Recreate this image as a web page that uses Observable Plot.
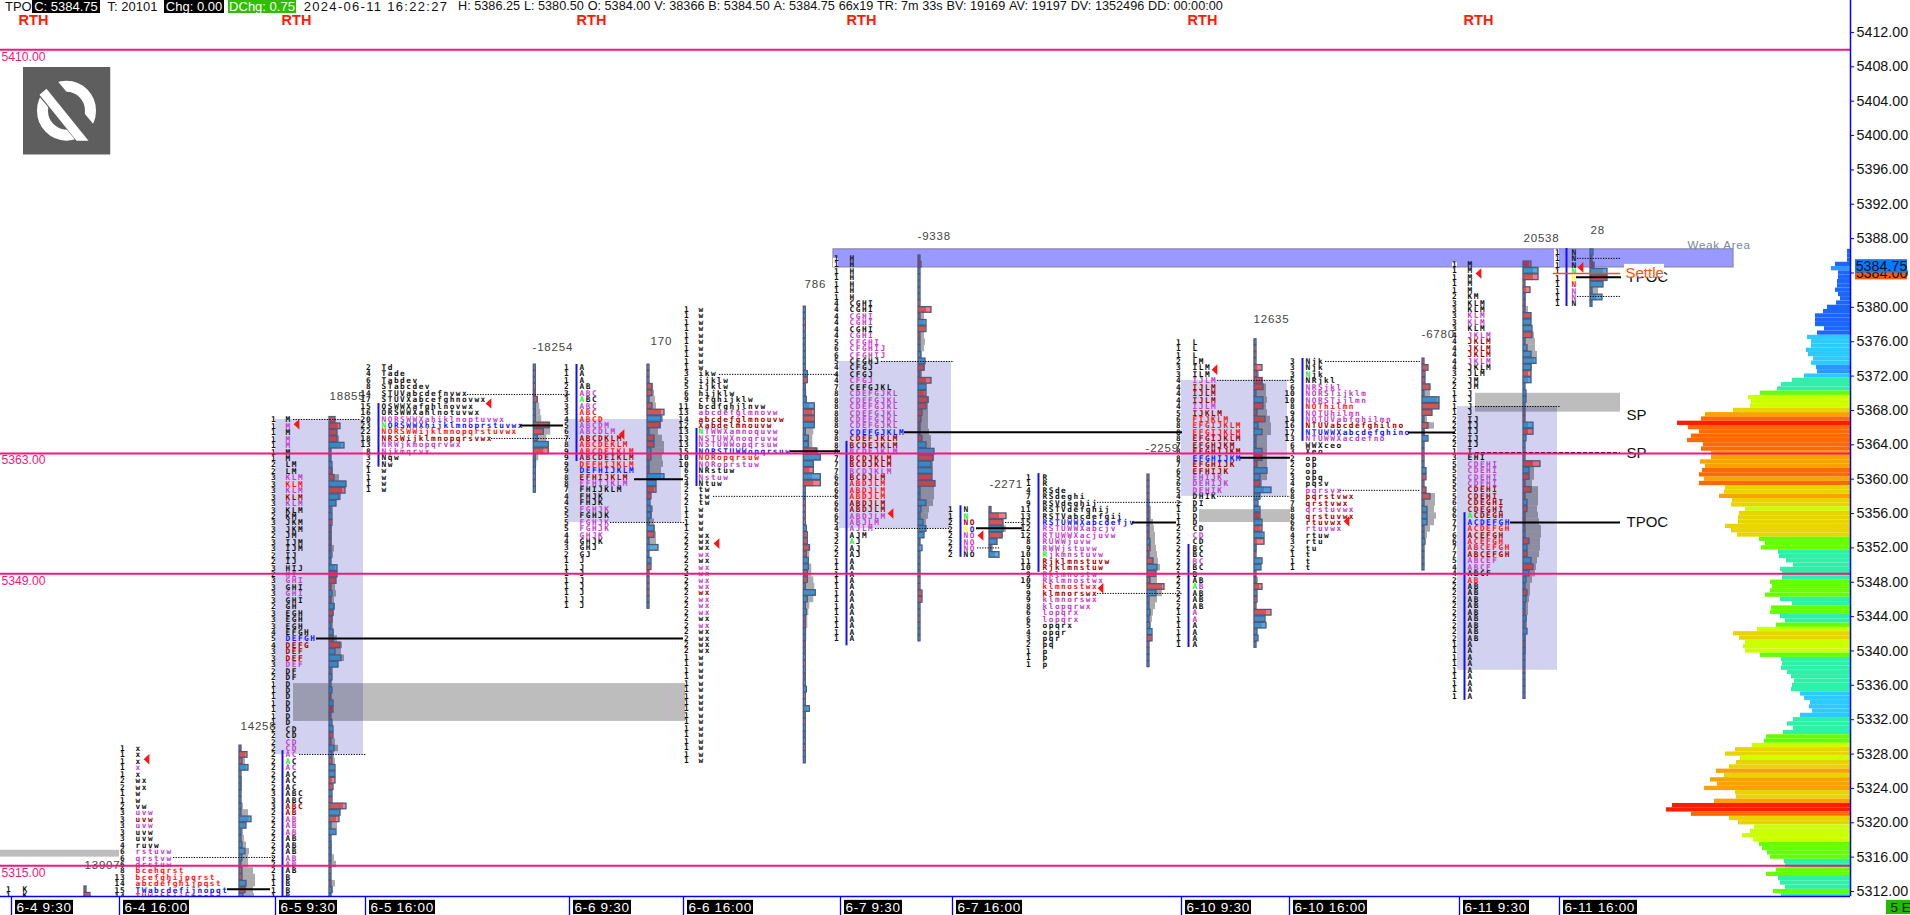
<!DOCTYPE html>
<html><head><meta charset="utf-8">
<script src="https://cdn.jsdelivr.net/npm/d3@7"></script>
<script src="https://cdn.jsdelivr.net/npm/@observablehq/plot@0.6"></script>
<style>
html,body{margin:0;padding:0;background:#fff;overflow:hidden}
#wrap{position:relative;width:1910px;height:915px}
#wrap svg{display:block;position:absolute;left:0;top:0}
#hdr span{position:absolute;top:0;height:13px;font:13px/13px "Liberation Sans",sans-serif;color:#111;white-space:nowrap;text-align:center}
#hdr .k{background:#000;color:#fff}
#hdr .g{background:#2ec000;color:#fff}
#hdr .w{letter-spacing:1.3px}
#flow{position:absolute;left:458px;top:0;font:12.7px/13px "Liberation Sans",sans-serif;color:#111;white-space:nowrap;word-spacing:0}
#flow b{font-weight:normal;margin-right:3.8px}
</style></head><body>
<div id="wrap"><div id="hdr"></div><div id="flow"></div></div>
<script>
// header
const headerItems=["TPO","C: 5384.75","T: 20101","Chg: 0.00","DChg: 0.75","2024-06-11 16:22:27"];
const headerClass=["","k","","k","g","w"];
const headerLeft=[5,32,105,164,228,301];
const headerWidth=[23,68,55,60,68,150];
const headerFlow=["H: 5386.25","L: 5380.50","O: 5384.00","V: 38366","B: 5384.50","A: 5384.75","66x19","TR: 7m 33s","BV: 19169","AV: 19197","DV: 1352496","DD: 00:00:00"];

// price levels
const keyLevels=[5410,5363,5349,5315];
const axisTicks=d3.range(5312,5413,4);

// TPO rows: first char = colour class, "!" green first letter, "^" yellow first letter
const p0Letters=["kK","kK"];
const p0Delta=[-2,-6];
const p0Gray=[0,0];

const p1Letters=["kx","kx","kx","mx","kx","kwx","kwx","kw","kw","kvw","muvw","duvw","muvw","kuvw","kuvw","kruvw","mrstuvw","mqrstvw","mqrstuw","rbcehqrst","rbcefghijpqrst","rabcdefghijpqst","bTWabcdefijnopqt","rTUWabhijkmnopq"];
const p1Delta=[-2,-8,-3,9,1,1,1,1,1,1,1,12,7,2,2,3,6,3,2,-3,-3,7,-6,4];
const p1Gray=[0,0,6,0,0,3,3,0,0,4,9,0,7,4,5,7,10,9,9,14,16,16,14,15];

const p2Letters=["kM","mM","kM","mM","mM","kM","kM","kLM","kLM","mKLM","rKLM","mKLM","dKLM","mKLM","kKLM","kKM","kJKM","kJKM","kJM","kIJM","kIJM","kIJ","kIJ","kHIJ","mHI","mGHI","kGHI","mGHI","kGHI","kGH","kEGH","kEGH","kEGH","kEFGH","bDEFGH","dDEFG","dDEF","dDEF","mDEF","kDF","kDF","kD","kD","kD","kD","kD","kD","kD","kCD","kCD","mCD","mCD","mAC","k!AC","mAC","kAC","kAC","kAC","kABC","kABC","dABC","dAB","mAB","mAB","mAB","kAB","kAB","kAB","mAB","mAB","kAB","kB","kB","kB","kB"];
const p2Delta=[-6,-11,-8,-8,15,2,2,3,-3,-5,17,-16,10,7,2,3,-3,-2,-2,-2,-2,2,2,8,-8,-7,-2,3,-2,5,-4,-3,2,4,-4,-11,6,12,9,2,3,2,3,-2,4,-4,-2,3,4,-4,-2,5,3,-3,6,6,-6,-4,3,-3,-17,11,-10,1,7,1,2,2,1,2,-1,2,-2,3,2];
const p2Gray=[6,0,8,10,0,0,0,3,4,10,17,13,12,7,4,0,0,3,3,3,5,4,0,6,8,7,6,7,5,6,5,4,4,5,8,13,12,15,9,4,3,0,0,0,0,0,0,0,0,0,6,9,5,6,0,6,3,0,0,0,14,11,7,8,6,2,3,3,5,7,0,0,6,4,0];

const p3Letters=["kTd","kTade","kTabdev","kSTabcdev","kSTUVabcdefnvwx","kSTUVXabcefghnovwx","kOSWWXafghlnovwx","kORSWWXahlnotuvwx","mNORSWWXahiklnoptuvwx","b!NORSWWXhijklmnoprstuvwx","rNORSWWijklmnopqrstuvwx","dNRSWijklmnopqrsvwx","mNRWjkmopqrvwx","mNjkmqrvx","kNqw","kNw","kw","kw","kw","kw"];
const p3Delta=[1,-1,1,-1,-1,-4,2,2,2,-16,-10,4,15,-15,2,1,1,1,1,1];
const p3Gray=[0,0,0,0,2,4,6,7,8,17,17,13,15,10,5,3,0,0,0,0];

const p4Letters=["kA","kA","kA","kAB","mABC","k!ABC","mABC","rABC","rABCD","mABCDM","mABCDLM","dABCDKLM","rABCDEKLM","rABCDEIKLM","dABCDEIKLM","rDEFHIJKLM","bDEFHIJKLM","dEFHIJKLM","mEFHIJKLM","kFHIJKLM","kFHJK","kFHJK","mFGHJK","kFGHJK","mFGHJK","mFGHJK","mGHJK","kGHJK","kGHJ","kGJ","kJ","kJ","kJ","kJ","kJ","kJ","kJ","kJ"];
const p4Delta=[-1,-1,-1,-5,-5,1,-5,-17,14,-13,2,-7,-7,4,-4,2,-2,17,9,-9,-4,3,4,4,2,7,-7,2,11,1,4,-4,-1,-1,-1,-1,1,1];
const p4Gray=[0,0,0,6,7,8,9,14,16,14,11,15,17,17,15,16,14,14,8,7,0,0,6,5,7,8,9,9,3,0,0,0,0,0,0,0,0,0];

const p5Letters=["kw","kw","kw","kw","kw","kw","kw","kw","kw","kw","kikw","kijklw","kijklw","khijklw","kcfghijklw","kbcdfghjlnvw","mabcdefglmnovw","dabcdefglmnouvw","dXabdelmnouvw","m!NTWWXamnoquvw","mNSTUWXnoqruvw","mNSTUWWopqrsuw","bNORSTUWWopqrsuw","rNORopqrsuw","mNORoprstuw","kNRstuw","mNstuw","kNtuw","ktw","ktw","ktw","kw","kw","kw","kw","kwx","kwx","kwx","mwx","kwx","mwx","mwx","mwx","mwx","dwx","mwx","mwx","mwx","kwx","mwx","kwx","kwx","kwx","kwx","kw","kw","kw","kw","kw","kw","kw","kw","kw","kw","kw","kw","kw","kw","kw","kw","kw"];
const p5Delta=[1,1,-1,-1,1,1,1,1,1,1,4,-4,2,2,3,11,-11,-11,11,2,5,5,-13,17,10,-10,17,-17,1,1,-1,-1,-1,-1,3,-4,-4,-6,-3,5,5,-4,-4,1,12,4,2,3,-2,-2,1,2,-1,1,1,-1,1,-2,1,3,-1,1,6,2,-1,1,2,1,-1,1,1];
const p5Gray=[0,0,0,0,0,0,0,0,0,0,0,0,2,3,3,6,9,10,11,10,9,9,15,17,10,6,9,10,0,0,0,0,0,0,0,0,0,7,6,5,8,8,10,11,12,10,6,5,4,4,3,3,2,2,0,0,0,0,0,3,0,0,4,0,0,0,0,0,0,0,0];

const p6Letters=["kH","kH","kH","kH","kH","kH","kH","kCGHI","kCGHI","mCGHI","mCGHI","kCGHI","mCGHI","mCFGHI","mCFGHIJ","mCFGHIJ","kCFGHJ","kCFGJ","kCFGJ","mCFGJ","kCEFGJKL","mCDEFGJKL","mCDEFGJKL","mCDEFGJKL","mCDEFGJKL","mCDEFGJKL","mCDEFGJKL","bCDEFGJKLM","dCDEFJKLM","dBCDEJKLM","mBCDEJKLM","dBCDJKLM","dBCDJKLM","mBCDJKLM","dBCDJLM","rABDJLM","rABDJLM","rABDJLM","dABDJLM","dABDJLM","mABDJLM","mABJLM","mAJLM","kAJM","k!AJ","kAJ","kAJ","kA","kA","kA","kA","kA","kA","kA","kA","kA","kA","kA","kA","kA"];
const p6Delta=[-2,-3,1,1,1,1,1,-1,-13,-1,8,-8,-1,-1,2,3,7,-6,-2,-13,8,-8,-10,-8,-4,-3,-2,-1,-4,8,16,-15,13,14,-14,-17,2,2,8,3,2,5,8,6,1,4,1,1,1,1,-1,-1,-4,-4,1,1,-1,1,1,1];
const p6Gray=[0,0,0,0,0,0,0,0,8,6,0,7,6,7,6,3,7,7,4,8,7,0,11,10,10,10,10,11,13,13,16,16,15,13,14,17,16,16,15,11,10,8,8,6,2,2,0,0,0,0,0,0,0,0,0,0,0,0,0,0];

const p7Letters=["kN","k!N","dNO","b^NO","mNO","mNO","mNO","kNO"];
const p7Delta=[-2,-17,-14,14,-13,8,2,10];
const p7Gray=[0,10,14,17,14,8,4,6];

const p8Letters=["kR","kR","kRSde","kRSdeghi","kRSVdeghij","kRSTVdefghij","kRSTVabcdefgij","bRSTUWWXabcdefjv","mRSTUWWXabcjv","mRTUWWXacjuvw","mRUWWjuvw","mRWWjstuvw","m!Rjkmnstuvw","dRjklmnstuvw","dRjklmnstuw","mRklmnostw","mRklmnostwx","rklmnostwx","dklmnorswx","mklmnorswx","mklopqrwx","mlopqrx","mlopqrx","kopqrx","kopqr","kpqr","kpq","kp","kp","kp"];
const p8Delta=[-1,-1,-1,-1,2,-1,-1,1,-1,-1,3,-3,-2,-6,10,-9,-3,-17,9,2,1,3,2,3,5,-5,-1,1,1,1];
const p8Gray=[0,0,0,0,0,4,4,6,7,8,8,9,10,11,13,9,10,15,15,10,8,6,5,3,3,0,0,0,0,0];

const p9Letters=["kL","kL","kL","kLM","kILM","kILM","mIJLM","dIJLM","dIJLM","dIJLM","mIJLM","dIJKLM","rFIJKLM","rEFGIJKLM","rEFGIJKLM","dEFGIJKLM","dEFGHJKM","dEFGHIJKM","bEFGHIJKM","dEFGHIJK","dEFHIJK","mEHIJK","mDEHIJK","mDEHIK","kDHIK","kDI","kD","kD","kD","kCD","mCD","kCD","kBC","kBC","mBC","kBC","kB","kAB","m!AB","kAB","kAB","kAB","mA","mA","kA","kA","kA","kA"];
const p9Delta=[1,-1,-1,-1,-8,-3,-8,-9,2,9,-9,-3,-11,4,8,2,2,8,-8,-3,13,6,-6,17,6,4,6,-6,8,-8,10,-10,1,-1,8,7,-1,-2,-8,3,-3,-2,-17,11,12,3,4,1];
const p9Gray=[0,0,0,0,3,5,9,12,12,13,12,13,16,17,17,13,13,13,13,13,13,13,8,10,5,0,0,0,0,0,0,3,3,0,0,0,0,4,5,0,0,0,12,10,8,0,0,0];

const p10Letters=["kNjk","kNjk","k!Njk","kNRjkl","mNRSjkl","mNORSTijklm","mNORSTijlmn","rNOThilmn","mNOTUhilmn","mNOTUVabfghilmn","dNTUVabcdefghilno","bNTUWWXabcdefghino","mNTUWWXacdefno","kWWXceo","kXeo","kop","kop","kop","kopq","kpqsv","mpqrsvx","dpqrstvwx","dqrstvwx","mqrstuvwx","dqrstuvwx","drtuvwx","mrtuvwx","krtuw","krtu","ktu","kt","kt","kt"];
const p10Delta=[-2,-6,-3,-3,-8,2,17,-17,-10,2,-6,2,6,2,1,-1,1,4,-4,-2,-4,-8,2,5,5,5,1,1,3,1,1,1,1];
const p10Gray=[0,0,0,0,8,8,15,17,10,5,12,3,5,0,0,0,0,0,0,0,4,13,13,12,14,12,8,5,0,0,0,0,0];

const p11Letters=["kM","kM","kM","kM","kM","kKM","kKLM","kKLM","mKLM","mKLM","kKLM","mJKLM","dJKLM","dJKLM","dJKLM","mJKLM","kJKLM","kJLM","kJM","kJM","kJ","kJ","kJ","kJ","kIJ","kIJ","kIJ","kIJ","kIJ","kI","kEHI","mCDEHI","mCDEHI","mCDEHI","mCDEHI","dCDEHI","dCDEHI","dCDEGHI","dCDEGHI","d!ACDEGH","bACDEFGH","rACDEFGH","dACEFGH","rACEFGH","rABCEFGH","dABCEFGH","mABCEF","mABCF","kABCF","rAB","kAB","kAB","kAB","kAB","kAB","kAB","kAB","kAB","kAB","kA","kA","kA","kA","kA","kA","kA","kA","kA"];
const p11Delta=[-8,15,-15,-1,-7,2,-2,-2,-8,8,9,-9,1,4,8,13,8,-8,8,2,3,3,2,-2,-2,10,-10,3,1,1,-2,-17,6,-6,-2,-8,-2,4,-4,-2,-1,-2,2,-6,4,-4,8,-10,6,3,2,-4,3,2,-2,3,1,4,2,-1,2,1,1,-1,1,2,1,1];
const p11Gray=[6,10,10,0,3,3,3,5,8,8,8,11,12,12,14,11,9,5,5,0,0,0,0,0,0,5,5,0,0,0,0,10,11,11,9,15,15,15,14,15,16,18,18,17,17,16,14,13,12,9,7,7,6,5,5,4,4,4,3,3,3,0,0,0,0,0,0,0];

const p12Letters=["kN","kN","kN","k!N","k^N","rN","mN","mN","kN"];
const p12Delta=[3,-2,-3,17,-17,13,2,12,2];
const p12Gray=[0,0,5,13,17,13,8,6,0];

// composite volume profile: band index, lengths top-down (every 0.5 point from 5386.75)
const volumeRuns=[[0,[3,3,3,15]],[1,[19]],[0,[12,12,13,13,15,12,10,14,23,27,35,35,35,26,33]],[2,[43,39,39,44,42,37,39]],[1,[34,33]],[2,[46]],[3,[58,69,73]],[4,[90]],[5,[102,99,100]],[6,[117]],[7,[145]],[8,[149]],[9,[173]],[8,[162,151,159,163,147,149]],[7,[139,139,150,145]],[8,[148,151]],[7,[146]],[8,[151]],[6,[125,126]],[7,[131]],[6,[118,119]],[5,[105]],[6,[111,112,112,125,119,113]],[4,[91,85,89]],[3,[72,71,64,57,70,68,68]],[4,[80,78,80,85]],[3,[70,58]],[4,[79,80]],[3,[70,65]],[4,[74]],[5,[93]],[6,[117,111]],[5,[105,107,105]],[4,[90]],[3,[69,68,69,63,59,56,58,59]],[2,[50,46,40,41,38,50]],[3,[57,63,57,67]],[4,[84,86]],[5,[98]],[6,[115,125]],[5,[110]],[6,[114,121]],[7,[134]],[6,[126]],[7,[140,133,146]],[6,[115,114]],[7,[136]],[9,[178,184]],[8,[159]],[6,[121,112]],[5,[96,100,108,97]],[4,[91,88,83,80]],[3,[66,65]],[4,[74,84]],[3,[72,70,65]],[4,[77]],[3,[69]]];
const bandColors=["#1a66ff","#2a96ff","#2ccbff","#2ef0a8","#66ff00","#ccff00","#e8d400","#fba200","#ff6a00","#ff1c00"];

// session columns on the time-position scale
const profileTable=[
 [p0Letters,p0Delta,p0Gray,5312.25,11,22,84],
 [p1Letters,p1Delta,p1Gray,5328.65,125,135,239],
 [p2Letters,p2Delta,p2Gray,5366.9,276,285,329],
 [p3Letters,p3Delta,p3Gray,5373,371,381,533.3],
 [p4Letters,p4Delta,p4Gray,5373,569,579,647],
 [p5Letters,p5Delta,p5Gray,5379.75,689,698,803.3],
 [p6Letters,p6Delta,p6Gray,5385.7,839,849,918],
 [p7Letters,p7Delta,p7Gray,5356.43,953,963,989],
 [p8Letters,p8Delta,p8Gray,5360.2,1031,1042,1147],
 [p9Letters,p9Delta,p9Gray,5375.95,1181,1192,1254],
 [p10Letters,p10Delta,p10Gray,5373.7,1295,1305,1422],
 [p11Letters,p11Delta,p11Gray,5385,1457,1467,1523],
 [p12Letters,p12Delta,p12Gray,5386.4,1560,1571,1590]
];
const valueAreas=[[275,363,5366.95,5327.95],[568,681,5366.95,5354.95],[839,951,5373.7,5354.25],[1181,1287,5371.5,5358],[1457,1557,5368.45,5337.75]];
const greyZones=[[0,119,5316.8,5316],[293,685,5336.2,5331.8],[1199,1290,5356.45,5354.95],[1475,1620,5370,5367.8]];
const weakArea=[[833,1733,5386.75,5384.65]];
const weakGaps=[[833,838,5385.7,5384.65],[1452,1457,5385.2,5384.65],[1554,1559,5386.75,5384.65]];
const ibRanges=[[282,5328.4,5311.4],[378,5368.8,5361.4],[576,5373.35,5362.05],[696,5365.9,5359.15],[846,5364.4,5340.6],[960,5356.9,5350.9],[1038,5360.65,5349.15],[1188,5352.4,5340.4],[1302,5374.05,5364.4],[1464,5356.1,5334.25],[1566,5386.85,5380.1]];
const pocLevels=[[227,270,5312.25],[316,683,5341.46],[520,563,5366.25],[634,683,5360],[790,840,5363.25],[904,1182,5365.47],[976,1022,5354.3],[1132,1176,5354.96],[1240,1290,5362.5],[1408,1455,5365.43],[1510,1620,5354.96],[1576,1621,5383.5]];
const dottedLevels=[[173,275,5315.96],[293,360,5366.95],[299,366,5327.95],[467,570,5369.86],[491,570,5364.74],[610,685,5354.96],[719,838,5372.2],[713,838,5358],[881,954,5373.7],[875,950,5354.26],[1005,1022,5354.96],[977,1000,5352],[1097,1182,5357.3],[1097,1182,5346.7],[1217,1293,5371.5],[1217,1290,5358],[1325,1420,5373.7],[1340,1420,5358.7],[1475,1560,5368.46],[1577,1620,5385.7],[1577,1620,5381.27]];
const dashedLevels=[[1475,1620,5363.1]];
const pointers=[[146,5327.4],[296,5366.4],[488,5368.8],[621,5365.2],[716,5352.5],[890,5356],[980,5353.45],[1100,5347.3],[1214,5372.75],[1346,5355.1],[1478,5383.95],[1580,5384.65]];
const totalsText=["14258","13907","18855","-18254","170","786","-9338","-2271","-2259","12635","-6780","20538","28"];
const totalsX=[240,84,329,532,650,804,917,989,1145,1253,1421,1523,1590];
const totalsP=[5331.2,5315.1,5369.7,5375.4,5376,5382.7,5388.25,5359.4,5363.6,5378.6,5376.85,5388,5389];
const rthX=[33,296,591,861,1202,1478];
const dateLabels=["6-4 9:30","6-4 16:00","6-5 9:30","6-5 16:00","6-6 9:30","6-6 16:00","6-7 9:30","6-7 16:00","6-10 9:30","6-10 16:00","6-11 9:30","6-11 16:00"];
const dateTicks=[11,119,275,365,569,683,840,952,1181,1289,1459,1559];
const sideNotes=[["SP",5367.5],["SP",5363],["TPOC",5355]];

// ---------- build ----------
const hdr=document.getElementById("hdr");
headerItems.forEach((t,i)=>{const s=document.createElement("span");s.textContent=t;s.className=headerClass[i];s.style.left=headerLeft[i]+"px";s.style.width=headerWidth[i]+"px";hdr.appendChild(s);});
document.getElementById("flow").innerHTML=headerFlow.map(t=>`<b>${t}</b>`).join("");
const palette={k:"#111",m:"#c23ec8",d:"#a30000",r:"#ff1414",b:"#1414ff"};
const hi=5415.72, lo=5311.42, axisX=1850, LET="DejaVu Sans Mono", TS=7.8;
const spaced=px=>(i,s,v,d,c,next)=>{const g=next(i,s,v,d,c);g.style.letterSpacing=px+"px";return g;};
const leftPointer={draw(ctx,size){const r=Math.sqrt(size/Math.PI);ctx.moveTo(-r*.62,0);ctx.lineTo(r*.62,-r*1.15);ctx.lineTo(r*.62,r*1.15);ctx.closePath();}};
const rows=profileTable.flatMap(([L,D,G,top,cx,lx,hx])=>L.map((s,i)=>{
  const c=s[0]; const flag=(s[1]==="!"||s[1]==="^")?s[1]:""; const text=s.slice(1+flag.length);
  const d=D[i]??1; const g=G[i]??0;
  return {c,flag,text,p:top-.75*i,cx,lx,hx,delta:d,gray:g||Math.abs(d)*.8,count:String(text.length)};
}));
const first=rows.filter(r=>r.flag);
const rect=(arr,o)=>Plot.rect(arr,{x1:d=>d[0],x2:d=>d[1],y1:d=>d[2],y2:d=>d[3],...o});
const vol=volumeRuns.flatMap(([b,ls])=>ls.map(l=>({b,l}))).map((d,i)=>({...d,top:5386.75-.5*i}));
const logo="data:image/svg+xml,"+encodeURIComponent(`<svg xmlns='http://www.w3.org/2000/svg' viewBox='0 0 88 88'><rect width='88' height='88' fill='#5e5e5e'/><ellipse cx='44' cy='44' rx='24' ry='24.5' fill='none' stroke='#fff' stroke-width='11'/><path d='M20 15 L74 80' stroke='#5e5e5e' stroke-width='24'/><path d='M24 22 L66 74 L54 74 L17 28 Z' fill='#fff'/></svg>`);

const plot=Plot.plot({
  width:1910,height:915,marginTop:0,marginLeft:0,marginRight:60,marginBottom:19,
  x:{domain:[0,axisX],axis:null},
  y:{domain:[lo,hi],axis:null},
  color:{type:"identity"},
  style:{background:"#fff",fontFamily:"Liberation Sans"},
  marks:[
    rect(valueAreas,{fill:"#d2d2f0"}),
    rect(greyZones,{fill:"#000",fillOpacity:.26}),
    rect(weakArea,{fill:"#9999ff",stroke:"#8488b0",strokeWidth:1.2}),
    rect(weakGaps,{fill:"#fff"}),
    // volume profile
    Plot.rect(vol,{x1:d=>axisX-d.l,x2:axisX,y1:d=>d.top,y2:d=>d.top-.5,fill:d=>bandColors[d.b],clip:true}),
    // per-row histograms
    Plot.rect(rows,{x1:"hx",x2:d=>d.hx+d.gray,y1:d=>d.p+.375,y2:d=>d.p-.375,fill:"#000",fillOpacity:.33,clip:true}),
    Plot.rect(rows,{x1:"hx",x2:d=>d.hx+Math.max(Math.abs(d.delta),2),y1:d=>d.p+.375,y2:d=>d.p-.375,insetTop:.4,insetBottom:.4,
      fill:d=>d.delta<0?"#ff0000":"#1486d2",fillOpacity:d=>d.delta<0?.5:.7,stroke:"#4c5a82",strokeWidth:1.3,clip:true}),
    // letters and counts
    Plot.text(rows,{x:"lx",y:"p",text:d=>d.flag?"\u00a0"+d.text.slice(1):d.text,fill:d=>palette[d.c],textAnchor:"start",lineAnchor:"middle",fontFamily:LET,fontSize:TS,fontWeight:"bold",clip:true,render:spaced(1.5)}),
    Plot.text(first,{x:"lx",y:"p",text:d=>d.text[0],fill:d=>d.flag==="!"?"#22ee22":"#ffff00",textAnchor:"start",lineAnchor:"middle",fontFamily:LET,fontSize:TS,fontWeight:"bold",clip:true}),
    Plot.text(rows,{x:"cx",y:"p",text:"count",fill:"#111",textAnchor:"end",lineAnchor:"middle",fontFamily:LET,fontSize:TS,fontWeight:"bold",clip:true,render:spaced(.8)}),
    // initial-balance bars
    Plot.ruleX(ibRanges,{x:d=>d[0],y1:d=>d[1],y2:d=>d[2],stroke:"#1010ff",strokeWidth:2,clip:true}),
    // reference lines
    Plot.ruleY(pocLevels,{x1:d=>d[0],x2:d=>d[1],y:d=>d[2],stroke:"#000",strokeWidth:2}),
    Plot.ruleY(dottedLevels,{x1:d=>d[0],x2:d=>d[1],y:d=>d[2],stroke:"#000",strokeWidth:1,strokeDasharray:"1.3 1.3"}),
    Plot.ruleY(dashedLevels,{x1:d=>d[0],x2:d=>d[1],y:d=>d[2],stroke:"#000",strokeWidth:1,strokeDasharray:"4 2"}),
    Plot.dot(pointers,{x:d=>d[0],y:d=>d[1],symbol:leftPointer,r:4.6,fill:"#ff1414",stroke:"none"}),
    // side notes
    Plot.text(sideNotes,{x:1626,y:d=>d[1],text:d=>d[0],textAnchor:"start",fontSize:15,fill:"#111"}),
    Plot.text(["TPOC"],{x:1626,y:5383.5,text:d=>d,textAnchor:"start",fontSize:15,fill:"#111"}),
    rect([[1624,1664,5385,5383.5]],{fill:"#fff"}),
    Plot.ruleY([5383.94],{x1:1553,x2:1620,stroke:"#ff5000",strokeWidth:1.4}),
    Plot.text(["Settle"],{x:1625,y:5383.94,text:d=>d,textAnchor:"start",fontSize:15,fill:"#ff5000"}),
    Plot.text(["Weak Area"],{x:1687,y:5387.2,text:d=>d,textAnchor:"start",fontSize:11.5,fill:"#778899",render:spaced(.8)}),
    // session totals
    Plot.text(totalsText,{x:(d,i)=>totalsX[i],y:(d,i)=>totalsP[i],text:d=>d,textAnchor:"start",fontSize:11.5,fill:"#444",render:spaced(.8)}),
    // RTH tags
    Plot.text(rthX,{x:d=>d,y:5413.4,text:()=>"RTH",fontSize:14.5,fontWeight:"bold",fill:"#ff1a00"}),
    // logo
    Plot.image([0],{x:66,y:5402.9,width:88,height:88,preserveAspectRatio:"none",src:()=>logo}),
    // key price lines
    Plot.ruleY(keyLevels,{x1:0,x2:axisX,y:d=>d,stroke:"#f5177a",strokeWidth:2}),
    Plot.text(keyLevels,{x:1,y:d=>d,dy:7,text:d=>d.toFixed(2),textAnchor:"start",fontSize:12.2,fill:"#f5177a"}),
    // price axis
    Plot.axisY(axisTicks,{anchor:"right",x:axisX,tickSize:3,tickPadding:3,stroke:"#0000ff",fill:"#111",fontSize:14.3,label:null,tickFormat:d=>d.toFixed(2)}),
    Plot.ruleX([axisX],{y1:lo,y2:hi,stroke:"#0000ff",strokeWidth:1.5}),
    rect([[axisX+1,1910,lo,lo-.45]],{fill:"#fff"}),
    Plot.ruleY([lo],{x1:0,x2:axisX,stroke:"#0000ff",strokeWidth:1.5}),
    // price flags
    rect([[1855,1907,5384.75,5383.2]],{fill:"#ff5a00"}),
    Plot.text(["5384.00"],{x:1881,y:5384,text:d=>d,fontSize:14.3,fill:"#111"}),
    rect([[1855,1907,5385.55,5384]],{fill:"#0a78ff"}),
    Plot.text(["5384.75"],{x:1881,y:5384.75,text:d=>d,fontSize:14.3,fill:"#111"}),
    // session axis
    Plot.ruleX(dateTicks,{x:d=>d,y1:lo,y2:lo-2.3,stroke:"#0000ff",strokeWidth:1.3}),
    Plot.rect(dateLabels,{x1:(d,i)=>dateTicks[i]+4,x2:(d,i)=>dateTicks[i]+4+8*d.length-6,y1:lo-.45,y2:lo-2.1,fill:"#000"}),
    Plot.text(dateLabels,{x:(d,i)=>dateTicks[i]+5,y:lo-1.27,text:d=>d,textAnchor:"start",fontSize:13.5,fill:"#fff",render:spaced(.7)}),
    rect([[1886,1910,lo-.45,lo-2.1]],{fill:"#22bb00"}),
    Plot.text(["5 E"],{x:1890,y:lo-1.27,text:d=>d,textAnchor:"start",fontSize:13.5,fill:"#111"})
  ]
});
document.getElementById("wrap").prepend(plot);
</script>
</body></html>
